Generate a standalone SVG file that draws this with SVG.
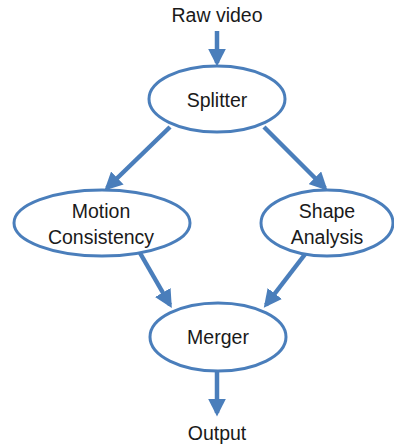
<svg xmlns="http://www.w3.org/2000/svg" width="394" height="447" viewBox="0 0 394 447">
<style>
.node{fill:#fff;stroke:#4a7ebb;stroke-width:3}
.lbl{font-family:"Liberation Sans",Arial,sans-serif;font-size:19.5px;fill:#1a1a1a;text-anchor:middle}
.edge{stroke:#4a7ebb;stroke-width:4.5;fill:none;marker-end:url(#ah)}
</style>
<defs>
<marker id="ah" markerWidth="4" markerHeight="4" refX="3.2" refY="2" orient="auto" markerUnits="strokeWidth">
<path d="M0,0 L4,2 L0,4 Z" fill="#4a7ebb"/>
</marker>
</defs>
<g id="connectors">
<line class="edge" x1="217" y1="31" x2="217" y2="63"/>
<line class="edge" x1="170" y1="127" x2="107" y2="188"/>
<line class="edge" x1="264" y1="127" x2="325" y2="188"/>
<line class="edge" x1="140" y1="253" x2="170" y2="305"/>
<line class="edge" x1="306" y1="253" x2="266" y2="305"/>
<line class="edge" x1="217" y1="371" x2="217" y2="413"/>
</g>
<g id="raw"><text class="lbl" x="217" y="22">Raw video</text></g>
<g id="splitter"><ellipse class="node" cx="217" cy="99" rx="68" ry="33"/><text class="lbl" x="217" y="107">Splitter</text></g>
<g id="motion"><ellipse class="node" cx="102" cy="223" rx="88" ry="33"/><text class="lbl" x="101" y="218">Motion</text><text class="lbl" x="101" y="244">Consistency</text></g>
<g id="shape"><ellipse class="node" cx="327" cy="223" rx="66" ry="33"/><text class="lbl" x="327" y="218">Shape</text><text class="lbl" x="327" y="244">Analysis</text></g>
<g id="merger"><ellipse class="node" cx="218" cy="337" rx="68" ry="34"/><text class="lbl" x="218" y="344">Merger</text></g>
<g id="output"><text class="lbl" x="217" y="440">Output</text></g>
</svg>
